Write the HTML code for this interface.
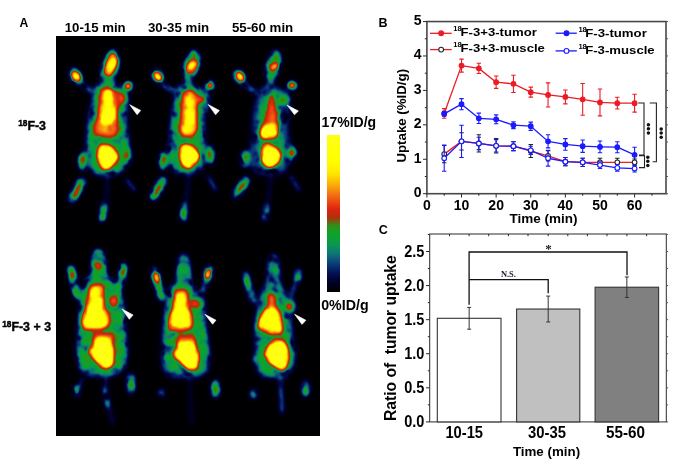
<!DOCTYPE html>
<html><head><meta charset="utf-8"><title>Figure</title>
<style>
html,body{margin:0;padding:0;background:#fff;}
body{width:680px;height:470px;overflow:hidden;}
svg{display:block;}
text{font-family:"Liberation Sans",Arial,sans-serif;}
.b{font-weight:bold;}
.serif{font-family:"Liberation Serif","Times New Roman",serif;}
</style></head>
<body>
<div style="will-change:transform;width:680px;height:470px">
<svg width="680" height="470" viewBox="0 0 680 470">
<defs>
<filter id="pet" x="56" y="36" width="264" height="400" filterUnits="userSpaceOnUse" color-interpolation-filters="sRGB">
<feGaussianBlur in="SourceGraphic" stdDeviation="2.1" result="b"/>
<feComponentTransfer in="b" result="w"><feFuncR type="table" tableValues="0.000 0.000 0.000 0.167 0.333 0.500 0.667 0.833 1.000 1.000 1.000 1.000 1.000 1.000 1.000 1.000 0.833 0.625 0.417 0.250 0.250 0.250 0.250 0.250 0.250 0.388 0.525 0.663 0.800 0.800 0.800 0.800 0.800 0.800 0.800 0.800 0.622 0.400 0.178 0.000 0.000"/><feFuncG type="table" tableValues="0.000 0.000 0.000 0.167 0.333 0.500 0.667 0.833 1.000 1.000 1.000 1.000 1.000 1.000 1.000 1.000 0.833 0.625 0.417 0.250 0.250 0.250 0.250 0.250 0.250 0.388 0.525 0.663 0.800 0.800 0.800 0.800 0.800 0.800 0.800 0.800 0.622 0.400 0.178 0.000 0.000"/><feFuncB type="table" tableValues="0.000 0.000 0.000 0.167 0.333 0.500 0.667 0.833 1.000 1.000 1.000 1.000 1.000 1.000 1.000 1.000 0.833 0.625 0.417 0.250 0.250 0.250 0.250 0.250 0.250 0.388 0.525 0.663 0.800 0.800 0.800 0.800 0.800 0.800 0.800 0.800 0.622 0.400 0.178 0.000 0.000"/><feFuncA type="linear" slope="0" intercept="1"/></feComponentTransfer>
<feTurbulence type="fractalNoise" baseFrequency="0.09" numOctaves="2" seed="7" result="n"/>
<feColorMatrix in="n" type="matrix" values="1 0 0 0 0  1 0 0 0 0  1 0 0 0 0  0 0 0 0 1" result="ng0"/>
<feComponentTransfer in="ng0" result="ng"><feFuncR type="table" tableValues="0 0.05 0.15 0.27 0.39 0.5 0.58 0.62 0.65 0.67 0.68"/><feFuncG type="table" tableValues="0 0.05 0.15 0.27 0.39 0.5 0.58 0.62 0.65 0.67 0.68"/><feFuncB type="table" tableValues="0 0.05 0.15 0.27 0.39 0.5 0.58 0.62 0.65 0.67 0.68"/></feComponentTransfer>
<feComposite in="w" in2="ng" operator="arithmetic" k1="0.5" k2="-0.25" k3="0" k4="0.5" result="T"/>
<feComposite in="b" in2="T" operator="arithmetic" k1="0" k2="1" k3="1" k4="-0.5" result="bn"/>
<feComponentTransfer in="bn">
<feFuncR type="table" tableValues="0.000 0.000 0.000 0.000 0.001 0.006 0.012 0.017 0.022 0.027 0.032 0.037 0.043 0.048 0.053 0.058 0.054 0.049 0.044 0.039 0.039 0.039 0.039 0.049 0.080 0.111 0.143 0.244 0.406 0.568 0.689 0.746 0.803 0.860 0.890 0.904 0.917 0.931 0.943 0.951 0.958 0.966 0.974 0.981 0.985 0.989 0.993 0.997 1.000 1.000 1.000 1.000 1.000 1.000 1.000 1.000 1.000 1.000 1.000 1.000 1.000 1.000 1.000 1.000"/>
<feFuncG type="table" tableValues="0.000 0.000 0.000 0.000 0.003 0.019 0.035 0.050 0.079 0.126 0.173 0.219 0.273 0.330 0.387 0.444 0.483 0.519 0.556 0.590 0.605 0.621 0.636 0.642 0.627 0.611 0.595 0.521 0.397 0.272 0.190 0.174 0.159 0.143 0.170 0.223 0.277 0.330 0.384 0.443 0.501 0.559 0.618 0.675 0.725 0.776 0.826 0.877 0.923 0.939 0.955 0.970 0.986 1.000 1.000 1.000 1.000 1.000 1.000 1.000 1.000 1.000 1.000 1.000"/>
<feFuncB type="table" tableValues="0.000 0.036 0.073 0.109 0.149 0.201 0.252 0.304 0.349 0.386 0.422 0.458 0.471 0.471 0.471 0.471 0.434 0.393 0.351 0.310 0.274 0.237 0.201 0.170 0.149 0.128 0.108 0.088 0.069 0.051 0.041 0.046 0.052 0.057 0.062 0.066 0.070 0.075 0.077 0.069 0.061 0.054 0.046 0.038 0.030 0.022 0.015 0.007 0.000 0.000 0.000 0.000 0.000 0.001 0.008 0.016 0.024 0.032 0.040 0.047 0.055 0.063 0.071 0.078"/>
</feComponentTransfer>
</filter>
<linearGradient id="cb" x1="0" y1="0" x2="0" y2="1">
<stop offset="0.000" stop-color="rgb(255,255,20)"/>
<stop offset="0.025" stop-color="rgb(255,255,17)"/>
<stop offset="0.050" stop-color="rgb(255,255,14)"/>
<stop offset="0.075" stop-color="rgb(255,255,11)"/>
<stop offset="0.100" stop-color="rgb(255,255,8)"/>
<stop offset="0.125" stop-color="rgb(255,255,4)"/>
<stop offset="0.150" stop-color="rgb(255,255,1)"/>
<stop offset="0.175" stop-color="rgb(255,251,0)"/>
<stop offset="0.200" stop-color="rgb(255,245,0)"/>
<stop offset="0.225" stop-color="rgb(255,239,0)"/>
<stop offset="0.250" stop-color="rgb(254,227,1)"/>
<stop offset="0.275" stop-color="rgb(253,207,4)"/>
<stop offset="0.300" stop-color="rgb(251,186,8)"/>
<stop offset="0.325" stop-color="rgb(249,165,11)"/>
<stop offset="0.350" stop-color="rgb(246,142,14)"/>
<stop offset="0.375" stop-color="rgb(243,118,17)"/>
<stop offset="0.400" stop-color="rgb(240,95,20)"/>
<stop offset="0.425" stop-color="rgb(235,74,18)"/>
<stop offset="0.450" stop-color="rgb(229,52,16)"/>
<stop offset="0.475" stop-color="rgb(220,36,15)"/>
<stop offset="0.500" stop-color="rgb(198,42,12)"/>
<stop offset="0.525" stop-color="rgb(175,49,10)"/>
<stop offset="0.550" stop-color="rgb(118,90,16)"/>
<stop offset="0.575" stop-color="rgb(53,140,24)"/>
<stop offset="0.600" stop-color="rgb(30,155,32)"/>
<stop offset="0.625" stop-color="rgb(18,161,40)"/>
<stop offset="0.650" stop-color="rgb(10,162,51)"/>
<stop offset="0.675" stop-color="rgb(10,156,65)"/>
<stop offset="0.700" stop-color="rgb(10,150,80)"/>
<stop offset="0.725" stop-color="rgb(12,135,97)"/>
<stop offset="0.750" stop-color="rgb(14,121,113)"/>
<stop offset="0.775" stop-color="rgb(14,101,120)"/>
<stop offset="0.800" stop-color="rgb(12,78,120)"/>
<stop offset="0.825" stop-color="rgb(10,56,117)"/>
<stop offset="0.850" stop-color="rgb(8,38,102)"/>
<stop offset="0.875" stop-color="rgb(5,19,88)"/>
<stop offset="0.900" stop-color="rgb(3,10,68)"/>
<stop offset="0.925" stop-color="rgb(1,4,48)"/>
<stop offset="0.950" stop-color="rgb(0,0,29)"/>
<stop offset="0.975" stop-color="rgb(0,0,15)"/>
<stop offset="1.000" stop-color="rgb(0,0,0)"/>
</linearGradient>
</defs>
<rect width="680" height="470" fill="#fff"/>
<!-- Panel A -->
<text class="b" x="19.5" y="26.8" font-size="12.2">A</text>
<text class="b" x="64.7" y="31.7" font-size="12.3" textLength="61" lengthAdjust="spacingAndGlyphs">10-15 min</text>
<text class="b" x="147.9" y="31.6" font-size="12.3" textLength="61.3" lengthAdjust="spacingAndGlyphs">30-35 min</text>
<text class="b" x="231.9" y="31.6" font-size="12.3" textLength="61.3" lengthAdjust="spacingAndGlyphs">55-60 min</text>
<rect x="56" y="36" width="264" height="400" fill="#000"/>
<g filter="url(#pet)">
<rect x="56" y="36" width="264" height="400" fill="#000"/>
<g id="petg">
<polygon points="97,83 114,82 122,86 127,93 129,101 128,112 127,122 129,135 130,147 128,160 125,169 118,175 108,177 97,176 90,170 87,160 85,147 86,135 87,122 89,110 92,96" fill="rgb(38,38,38)" stroke="rgb(38,38,38)" stroke-width="1.5" stroke-linejoin="round"/>
<polygon points="99,86 112,85 119,88 123,93 125,101 124,110 123,122 125,135 126,145 124,158 122,166 117,171 108,173 98,172 93,167 91,158 89,145 90,135 91,122 93,110 95,98" fill="rgb(87,87,87)" stroke="rgb(87,87,87)" stroke-width="1.5" stroke-linejoin="round"/>
<polyline points="109,78 107,90" fill="none" stroke="rgb(76,76,76)" stroke-width="10" stroke-linecap="round" stroke-linejoin="round"/>
<polygon points="113.5,50 117,53 118.5,59 118,66 116.5,72 113,77.5 107,79 101.5,78 101.5,72 104,64 106.5,57 110,52" fill="rgb(87,87,87)" stroke="rgb(87,87,87)" stroke-width="1.5" stroke-linejoin="round"/>
<polygon points="113.5,54.3 116,58 116.4,61.5 114.5,66.8 111.5,71 108.8,75.4 106,72.5 105.9,70 107.8,63 110.7,56.3" fill="rgb(230,230,230)" stroke="rgb(230,230,230)" stroke-width="1.5" stroke-linejoin="round"/>
<ellipse cx="106.2" cy="73.5" rx="1.8" ry="2.2" fill="rgb(153,153,153)"/>
<ellipse cx="75.5" cy="76" rx="5.5" ry="8.5" fill="rgb(92,92,92)" transform="rotate(-32 75.5 76)"/>
<ellipse cx="76" cy="76.5" rx="3.3" ry="5.5" fill="rgb(255,255,255)" transform="rotate(-32 76 76.5)"/>
<polyline points="80,83 88,89 97,94" fill="none" stroke="rgb(61,61,61)" stroke-width="5" stroke-linecap="round" stroke-linejoin="round"/>
<ellipse cx="128.3" cy="86.3" rx="4.3" ry="4.3" fill="rgb(92,92,92)"/>
<ellipse cx="128" cy="86" rx="2.6" ry="2.6" fill="rgb(255,255,255)"/>
<polyline points="127,89 124,95" fill="none" stroke="rgb(66,66,66)" stroke-width="2.5" stroke-linecap="round" stroke-linejoin="round"/>
<polygon points="100,89 108,88.5 114,90 118,93 124,95 125.5,99 123,102.5 118,104 117,112 117,122 118,130 115,136.5 104,137 95,134 94.5,125 98,115 99,105 99.5,95" fill="rgb(143,143,143)" stroke="rgb(143,143,143)" stroke-width="1.5" stroke-linejoin="round"/>
<ellipse cx="121.5" cy="98" rx="3.8" ry="3.6" fill="rgb(153,153,153)"/>
<polygon points="98,121 115,121 115,131 111,134 100,134 97,130" fill="rgb(158,158,158)" stroke="rgb(158,158,158)" stroke-width="1.5" stroke-linejoin="round"/>
<polygon points="106.5,91 110,91 112,97 113,105 114,113 114,119 111.5,123 104,123.5 101.5,120 102.5,112 104,102 105,95" fill="rgb(235,235,235)" stroke="rgb(235,235,235)" stroke-width="1.5" stroke-linejoin="round"/>
<ellipse cx="104" cy="129" rx="2.2" ry="1.8" fill="rgb(199,199,199)"/>
<ellipse cx="111" cy="128" rx="1.8" ry="1.6" fill="rgb(194,194,194)"/>
<polygon points="100.59,146.05 109.51,146.79 114.67,152.03 117.3,156.44 114.63,160.84 110.25,165.93 107.29,169 103.63,167.52 100.03,162.27 98.89,155.69 99.2,150.57" fill="rgb(255,255,255)" stroke="rgb(255,255,255)" stroke-width="1.5" stroke-linejoin="round"/>
<ellipse cx="83" cy="161.5" rx="4.5" ry="9.5" fill="rgb(92,92,92)"/>
<ellipse cx="82.6" cy="160" rx="2.2" ry="3.5" fill="rgb(153,153,153)"/>
<ellipse cx="127" cy="156.5" rx="4.3" ry="9" fill="rgb(92,92,92)"/>
<ellipse cx="127.2" cy="155" rx="2.1" ry="3.3" fill="rgb(153,153,153)"/>
<polyline points="72.5,198.5 81.5,182" fill="none" stroke="rgb(92,92,92)" stroke-width="8" stroke-linecap="round" stroke-linejoin="round"/>
<polyline points="74,196 80,185" fill="none" stroke="rgb(153,153,153)" stroke-width="4" stroke-linecap="round" stroke-linejoin="round"/>
<polyline points="126.5,180 134.5,190" fill="none" stroke="rgb(56,56,56)" stroke-width="3.5" stroke-linecap="round" stroke-linejoin="round"/>
<polyline points="105,203.5 102,219" fill="none" stroke="rgb(92,92,92)" stroke-width="5.5" stroke-linecap="round" stroke-linejoin="round"/>
<polyline points="103.5,210 102.3,217.5" fill="none" stroke="rgb(153,153,153)" stroke-width="3" stroke-linecap="round" stroke-linejoin="round"/>
<polyline points="108,172 106,203" fill="none" stroke="rgb(36,36,36)" stroke-width="3" stroke-linecap="round" stroke-linejoin="round"/>
<polygon points="178,85 196,85 204,90 210,96 209,108 205,120 206,135 207,148 205,162 201,172 190,175 179,175 172,172 168,162 167,148 169,135 170,122 172,108 174,95" fill="rgb(38,38,38)" stroke="rgb(38,38,38)" stroke-width="1.5" stroke-linejoin="round"/>
<polygon points="180,88 195,88 201,93 207,97 205,104 202,115 202,130 203,145 201,160 198,168 190,171 180,171 174,168 171,160 171,145 173,130 174,118 176,105 178,95" fill="rgb(80,80,80)" stroke="rgb(80,80,80)" stroke-width="1.5" stroke-linejoin="round"/>
<polyline points="189,78 187,90" fill="none" stroke="rgb(61,61,61)" stroke-width="6.5" stroke-linecap="round" stroke-linejoin="round"/>
<polygon points="195,50.5 199.6,57 198.5,66 195,74 190,78.5 185,77 183.4,70 185.5,62 189,56 192,51.5" fill="rgb(87,87,87)" stroke="rgb(87,87,87)" stroke-width="1.5" stroke-linejoin="round"/>
<polygon points="192,61 196.5,62 196,67 193,71.5 188.5,72 187.5,68 189.5,64" fill="rgb(230,230,230)" stroke="rgb(230,230,230)" stroke-width="1.5" stroke-linejoin="round"/>
<ellipse cx="194.5" cy="55.5" rx="2.2" ry="3.2" fill="rgb(158,158,158)" transform="rotate(20 194.5 55.5)"/>
<ellipse cx="157.5" cy="75.5" rx="5" ry="7.5" fill="rgb(92,92,92)" transform="rotate(-32 157.5 75.5)"/>
<ellipse cx="157.8" cy="76.5" rx="3" ry="4.8" fill="rgb(255,255,255)" transform="rotate(-32 157.8 76.5)"/>
<polyline points="162,84 170,89 177,93" fill="none" stroke="rgb(61,61,61)" stroke-width="4.5" stroke-linecap="round" stroke-linejoin="round"/>
<ellipse cx="210" cy="85.3" rx="4" ry="4" fill="rgb(92,92,92)"/>
<ellipse cx="210" cy="85.3" rx="2.5" ry="2.5" fill="rgb(255,255,255)"/>
<polyline points="208.5,88.5 204,95" fill="none" stroke="rgb(56,56,56)" stroke-width="2.2" stroke-linecap="round" stroke-linejoin="round"/>
<polygon points="182,91 190,90 196,93 198,96 206,97 205,101 198,102 197,110 197,120 197,130 194,136 185,137 180,133 180,122 181,110 182,100" fill="rgb(143,143,143)" stroke="rgb(143,143,143)" stroke-width="1.5" stroke-linejoin="round"/>
<ellipse cx="201" cy="98.5" rx="4.5" ry="2.8" fill="rgb(148,148,148)"/>
<polygon points="186,93 191,92.5 194,98 195,110 195,122 195,130 192,134 183,134 182,128 184,118 185,106" fill="rgb(173,173,173)" stroke="rgb(173,173,173)" stroke-width="1.5" stroke-linejoin="round"/>
<polygon points="188.5,95 190.5,95 191.5,101 192,110 192,119 192.5,126 191,131 185,131.5 184,128 186.5,121 187.5,110 188,101" fill="rgb(230,230,230)" stroke="rgb(230,230,230)" stroke-width="1.5" stroke-linejoin="round"/>
<polygon points="182.6,145.65 189.26,146.1 192.88,148.34 198.5,155.59 196.66,160.78 189.27,167.5 184.16,165.23 180.88,157.78 180.86,151.97" fill="rgb(255,255,255)" stroke="rgb(255,255,255)" stroke-width="1.5" stroke-linejoin="round"/>
<ellipse cx="163.4" cy="161" rx="4.3" ry="9" fill="rgb(92,92,92)"/>
<ellipse cx="163.2" cy="158.7" rx="2.1" ry="3.2" fill="rgb(153,153,153)"/>
<ellipse cx="209.8" cy="155" rx="4.3" ry="9" fill="rgb(92,92,92)"/>
<ellipse cx="210" cy="153.8" rx="2.1" ry="3.2" fill="rgb(153,153,153)"/>
<polyline points="154,196 162.5,181" fill="none" stroke="rgb(92,92,92)" stroke-width="8" stroke-linecap="round" stroke-linejoin="round"/>
<polyline points="155.5,194 160.5,186" fill="none" stroke="rgb(153,153,153)" stroke-width="4" stroke-linecap="round" stroke-linejoin="round"/>
<polyline points="208.5,177 215.5,190" fill="none" stroke="rgb(56,56,56)" stroke-width="3.5" stroke-linecap="round" stroke-linejoin="round"/>
<polyline points="185,205 183,219" fill="none" stroke="rgb(89,89,89)" stroke-width="5.5" stroke-linecap="round" stroke-linejoin="round"/>
<polyline points="184,211 183.3,218" fill="none" stroke="rgb(148,148,148)" stroke-width="3" stroke-linecap="round" stroke-linejoin="round"/>
<polyline points="189,172 186,205" fill="none" stroke="rgb(36,36,36)" stroke-width="3" stroke-linecap="round" stroke-linejoin="round"/>
<polygon points="262,86 278,86 286,92 291,100 290,112 288,125 290,140 292,152 289,165 284,173 271,176 259,175 252,170 249,160 250,148 251,135 252,120 254,105 258,93" fill="rgb(36,36,36)" stroke="rgb(36,36,36)" stroke-width="1.5" stroke-linejoin="round"/>
<polygon points="266,91 276,91 280,94 284,97 283,103 280,106 280,120 281,135 283,145 283,158 280,167 271,170 263,168 259,160 259,148 259,135 259,120 261,105 263,96" fill="rgb(76,76,76)" stroke="rgb(76,76,76)" stroke-width="1.5" stroke-linejoin="round"/>
<polyline points="271,78 270,90" fill="none" stroke="rgb(56,56,56)" stroke-width="6.5" stroke-linecap="round" stroke-linejoin="round"/>
<polygon points="276,50.5 280,55 280.5,63 279,71 275,77 270,78.5 266,75 266,67 269,60 272,53" fill="rgb(84,84,84)" stroke="rgb(84,84,84)" stroke-width="1.5" stroke-linejoin="round"/>
<ellipse cx="275.6" cy="55.8" rx="2.2" ry="2.4" fill="rgb(148,148,148)"/>
<ellipse cx="274.2" cy="66.8" rx="5.2" ry="2.5" fill="rgb(204,204,204)" transform="rotate(-38 274.2 66.8)"/>
<ellipse cx="239.3" cy="77" rx="5" ry="7.5" fill="rgb(92,92,92)" transform="rotate(-35 239.3 77)"/>
<ellipse cx="240.2" cy="76.8" rx="2.8" ry="5" fill="rgb(255,255,255)" transform="rotate(-35 240.2 76.8)"/>
<polyline points="243,83 252,90 261,94" fill="none" stroke="rgb(61,61,61)" stroke-width="4.5" stroke-linecap="round" stroke-linejoin="round"/>
<ellipse cx="292.4" cy="85.4" rx="4.2" ry="4" fill="rgb(92,92,92)"/>
<ellipse cx="292" cy="85.4" rx="2.7" ry="2.4" fill="rgb(250,250,250)"/>
<polyline points="290.5,88.5 286,95" fill="none" stroke="rgb(56,56,56)" stroke-width="2.2" stroke-linecap="round" stroke-linejoin="round"/>
<ellipse cx="285" cy="100" rx="5.5" ry="3.6" fill="rgb(105,105,105)"/>
<polygon points="270.5,92 272.5,92 275,105 277,115 278,124 277,130 263,130 264,122 267,110 269,100" fill="rgb(140,140,140)" stroke="rgb(140,140,140)" stroke-width="1.5" stroke-linejoin="round"/>
<polygon points="271.5,98 272.5,98 273.5,108 274,118 273.5,124 269.5,124 270.5,116 271,106" fill="rgb(153,153,153)" stroke="rgb(153,153,153)" stroke-width="1.5" stroke-linejoin="round"/>
<polygon points="263.5,127 275,125.5 277,130 276,135.5 271,137.5 262,137.5 261,132" fill="rgb(235,235,235)" stroke="rgb(235,235,235)" stroke-width="1.5" stroke-linejoin="round"/>
<polygon points="264.39,145.25 270.28,145.7 275.42,148.99 279.5,154.8 278.37,160.78 270.28,167.1 264.41,163.66 262.29,156.99 262.65,151.19" fill="rgb(255,255,255)" stroke="rgb(255,255,255)" stroke-width="1.5" stroke-linejoin="round"/>
<ellipse cx="245.1" cy="159" rx="4.2" ry="8.5" fill="rgb(89,89,89)"/>
<ellipse cx="245.1" cy="157.7" rx="2.1" ry="3" fill="rgb(148,148,148)"/>
<ellipse cx="291.8" cy="154.5" rx="4.3" ry="8.5" fill="rgb(92,92,92)"/>
<ellipse cx="291.8" cy="152.8" rx="2.2" ry="3.4" fill="rgb(184,184,184)"/>
<polyline points="236.5,194 245.5,181" fill="none" stroke="rgb(89,89,89)" stroke-width="8" stroke-linecap="round" stroke-linejoin="round"/>
<polyline points="238,192 243.5,185" fill="none" stroke="rgb(145,145,145)" stroke-width="4" stroke-linecap="round" stroke-linejoin="round"/>
<polyline points="291,177 299,190" fill="none" stroke="rgb(51,51,51)" stroke-width="3.5" stroke-linecap="round" stroke-linejoin="round"/>
<polyline points="267,206 265,218" fill="none" stroke="rgb(87,87,87)" stroke-width="5" stroke-linecap="round" stroke-linejoin="round"/>
<polyline points="271,172 268,206" fill="none" stroke="rgb(33,33,33)" stroke-width="3" stroke-linecap="round" stroke-linejoin="round"/>
<polygon points="86,277 108,276 118,283 122,295 125,310 126,325 127,340 128,355 125,369 114,377 90,377 79,370 76,355 77,340 78,325 79,310 81,295" fill="rgb(41,41,41)" stroke="rgb(41,41,41)" stroke-width="1.5" stroke-linejoin="round"/>
<polygon points="88,280 106,279 115,285 119,295 122,310 123,325 124,340 125,355 122,367 112,373 92,373 82,367 79,355 80,340 81,325 82,310 84,295" fill="rgb(87,87,87)" stroke="rgb(87,87,87)" stroke-width="1.5" stroke-linejoin="round"/>
<polygon points="95,250 101,250 104,256 105,265 105.5,275 108,284 89,284 91.5,275 92,265 93,256" fill="rgb(84,84,84)" stroke="rgb(84,84,84)" stroke-width="1.5" stroke-linejoin="round"/>
<ellipse cx="98.2" cy="252.5" rx="3" ry="3.5" fill="rgb(66,66,66)"/>
<ellipse cx="98.3" cy="265" rx="4.5" ry="3.5" fill="rgb(143,143,143)"/>
<ellipse cx="98.3" cy="265" rx="2" ry="1.8" fill="rgb(158,158,158)"/>
<polyline points="71,269 74,283 78,296" fill="none" stroke="rgb(87,87,87)" stroke-width="7" stroke-linecap="round" stroke-linejoin="round"/>
<ellipse cx="72.6" cy="275.6" rx="2" ry="3.5" fill="rgb(178,178,178)" transform="rotate(-15 72.6 275.6)"/>
<ellipse cx="75.4" cy="291.5" rx="1.8" ry="2.4" fill="rgb(148,148,148)"/>
<polyline points="123.5,267 121.5,279 117.5,291" fill="none" stroke="rgb(87,87,87)" stroke-width="7" stroke-linecap="round" stroke-linejoin="round"/>
<ellipse cx="122.3" cy="271.8" rx="2" ry="3.5" fill="rgb(173,173,173)" transform="rotate(15 122.3 271.8)"/>
<polygon points="90,284.5 102.5,284.5 104,292 104,303 106,310 110,316 110.5,322 107,327 100,329.5 84,329.5 81,323 83,314 86,306 89,296" fill="rgb(143,143,143)" stroke="rgb(143,143,143)" stroke-width="1.5" stroke-linejoin="round"/>
<ellipse cx="113.7" cy="301.5" rx="7.5" ry="8" fill="rgb(92,92,92)"/>
<ellipse cx="113.7" cy="301.8" rx="4.8" ry="6" fill="rgb(143,143,143)"/>
<ellipse cx="114" cy="300.5" rx="2.2" ry="2.6" fill="rgb(161,161,161)"/>
<polygon points="92,289 100,288.5 101,296 101,304 103,310 105.5,316 106.5,323 103,326.5 86,326.5 83.5,322 85.5,315 88.5,309 91,303 91.5,295" fill="rgb(235,235,235)" stroke="rgb(235,235,235)" stroke-width="1.5" stroke-linejoin="round"/>
<polygon points="95,333.5 112,333 114.5,338 110,341 100,341 93,340" fill="rgb(143,143,143)" stroke="rgb(143,143,143)" stroke-width="1.5" stroke-linejoin="round"/>
<polygon points="96.57,339.96 102.11,338.5 109.6,339.95 112.22,349.23 112.26,358.49 111.47,365.08 105.81,367.41 100.28,364.01 94.74,357.59 89.6,351.53 92.85,347.39" fill="rgb(255,255,255)" stroke="rgb(255,255,255)" stroke-width="1.5" stroke-linejoin="round"/>
<polyline points="83,378 79,387 77,391" fill="none" stroke="rgb(51,51,51)" stroke-width="2.5" stroke-linecap="round" stroke-linejoin="round"/>
<ellipse cx="76.8" cy="391" rx="3.2" ry="5.2" fill="rgb(94,94,94)"/>
<ellipse cx="76.6" cy="390.3" rx="1.6" ry="2" fill="rgb(148,148,148)"/>
<ellipse cx="130.8" cy="383.5" rx="4" ry="10.5" fill="rgb(94,94,94)"/>
<ellipse cx="130.9" cy="385" rx="1.8" ry="2.8" fill="rgb(163,163,163)"/>
<polyline points="106,372 106,388 109,405 113,424" fill="none" stroke="rgb(46,46,46)" stroke-width="2.5" stroke-linecap="round" stroke-linejoin="round"/>
<polyline points="105,388 107.5,406" fill="none" stroke="rgb(76,76,76)" stroke-width="4" stroke-linecap="round" stroke-linejoin="round"/>
<polygon points="170,285 190,284 198,290 204,298 206,312 207,328 209,345 211,358 208,372 198,378 172,378 163,371 161,355 162,340 163,320 165,305 167,292" fill="rgb(41,41,41)" stroke="rgb(41,41,41)" stroke-width="1.5" stroke-linejoin="round"/>
<polygon points="172,288 189,287 195,293 200,301 202,314 204,330 206,346 207,358 203,368 196,373 174,373 167,367 165,355 166,340 167,322 169,306 170,296" fill="rgb(87,87,87)" stroke="rgb(87,87,87)" stroke-width="1.5" stroke-linejoin="round"/>
<polygon points="181,254.5 186,254.5 189,262 190,272 191,283 193,290 174,290 176.5,283 177.5,272 178.5,262" fill="rgb(76,76,76)" stroke="rgb(76,76,76)" stroke-width="1.5" stroke-linejoin="round"/>
<ellipse cx="183.5" cy="257" rx="2.5" ry="3" fill="rgb(56,56,56)"/>
<ellipse cx="183.3" cy="268" rx="4" ry="5" fill="rgb(89,89,89)"/>
<polyline points="154.5,271 157.5,284 161.5,297" fill="none" stroke="rgb(87,87,87)" stroke-width="7" stroke-linecap="round" stroke-linejoin="round"/>
<ellipse cx="156.8" cy="277.5" rx="2.6" ry="5.5" fill="rgb(230,230,230)" transform="rotate(-15 156.8 277.5)"/>
<ellipse cx="160.6" cy="294.7" rx="1.7" ry="2" fill="rgb(148,148,148)"/>
<polyline points="209,270 207.5,277" fill="none" stroke="rgb(87,87,87)" stroke-width="7.5" stroke-linecap="round" stroke-linejoin="round"/>
<polyline points="207,280 203,291" fill="none" stroke="rgb(61,61,61)" stroke-width="5" stroke-linecap="round" stroke-linejoin="round"/>
<ellipse cx="207.8" cy="274" rx="2.6" ry="5" fill="rgb(230,230,230)" transform="rotate(20 207.8 274)"/>
<polygon points="175,289.5 187,289.5 188,297 189,305 191,313 193,320 192,327 187,331 170,331 167.5,326 169.5,318 172.5,310 174,300" fill="rgb(143,143,143)" stroke="rgb(143,143,143)" stroke-width="1.5" stroke-linejoin="round"/>
<ellipse cx="194.5" cy="304" rx="8.5" ry="6.5" fill="rgb(89,89,89)"/>
<ellipse cx="194.5" cy="304" rx="6.3" ry="4" fill="rgb(143,143,143)"/>
<ellipse cx="189.5" cy="303.6" rx="1.5" ry="1.5" fill="rgb(153,153,153)"/>
<ellipse cx="198.3" cy="303" rx="1.8" ry="1.8" fill="rgb(156,156,156)"/>
<polygon points="177.5,294 184,294 185,300 186,307 188,314 190,321 188.5,326 172,326.5 170.5,322 173,315 175.5,307 176.5,300" fill="rgb(235,235,235)" stroke="rgb(235,235,235)" stroke-width="1.5" stroke-linejoin="round"/>
<polygon points="179,336 193.5,335.5 196,341 192,343.5 181,343.5 177,342" fill="rgb(143,143,143)" stroke="rgb(143,143,143)" stroke-width="1.5" stroke-linejoin="round"/>
<polygon points="179.6,342.75 186.98,341.9 192.62,342.76 197.2,353.93 197.26,361.39 195.47,367.97 189.81,368.81 183.34,363.13 176.89,356.72 174.1,353.93 177.84,349.31" fill="rgb(255,255,255)" stroke="rgb(255,255,255)" stroke-width="1.5" stroke-linejoin="round"/>
<ellipse cx="161.6" cy="393" rx="3" ry="3.8" fill="rgb(79,79,79)"/>
<ellipse cx="215.5" cy="389" rx="4.3" ry="9" fill="rgb(89,89,89)"/>
<ellipse cx="215.5" cy="389.3" rx="1.8" ry="2.4" fill="rgb(153,153,153)"/>
<polyline points="190,376 190,400 192,424" fill="none" stroke="rgb(33,33,33)" stroke-width="2.5" stroke-linecap="round" stroke-linejoin="round"/>
<polygon points="263,286 281,286 288,294 291,306 292,322 294,338 296,353 294,368 285,378 263,378 256,370 255,352 254,335 255,318 258,300" fill="rgb(38,38,38)" stroke="rgb(38,38,38)" stroke-width="1.5" stroke-linejoin="round"/>
<polygon points="266,290 278,290 284,298 287,310 288,325 290,340 292,355 290,368 282,374 266,374 260,368 259,350 258,335 259,318 262,302" fill="rgb(82,82,82)" stroke="rgb(82,82,82)" stroke-width="1.5" stroke-linejoin="round"/>
<polygon points="271,255 276,255 279,262 279.5,272 280,282 283,291 265,291 267,282 267.5,272 268,262" fill="rgb(59,59,59)" stroke="rgb(59,59,59)" stroke-width="1.5" stroke-linejoin="round"/>
<ellipse cx="273.3" cy="269.8" rx="5" ry="3.8" fill="rgb(84,84,84)"/>
<polyline points="246,275 249,288 253,300" fill="none" stroke="rgb(74,74,74)" stroke-width="6.5" stroke-linecap="round" stroke-linejoin="round"/>
<ellipse cx="247.2" cy="281.2" rx="1.8" ry="3.2" fill="rgb(140,140,140)" transform="rotate(-15 247.2 281.2)"/>
<polyline points="298.5,272 297.5,280" fill="none" stroke="rgb(82,82,82)" stroke-width="6" stroke-linecap="round" stroke-linejoin="round"/>
<polyline points="296,283 291,296" fill="none" stroke="rgb(56,56,56)" stroke-width="4" stroke-linecap="round" stroke-linejoin="round"/>
<ellipse cx="297.7" cy="276.5" rx="1.8" ry="3.2" fill="rgb(153,153,153)" transform="rotate(10 297.7 276.5)"/>
<polygon points="269.5,293.5 273.5,293.5 275,303 278,309 281,316 282.5,325 282,333 270,334 258,329 257.5,323 261,316 267,308 268.5,302" fill="rgb(143,143,143)" stroke="rgb(143,143,143)" stroke-width="1.5" stroke-linejoin="round"/>
<polygon points="270.5,296.5 272.5,296.5 273.5,304 272.5,309 270.5,308 270,303" fill="rgb(163,163,163)" stroke="rgb(163,163,163)" stroke-width="1.5" stroke-linejoin="round"/>
<polygon points="267.5,308.5 273.5,308.5 277.5,314 279.5,322 280.5,331 272,332 268,328 260,326.5 259.5,322.5 263.5,315" fill="rgb(235,235,235)" stroke="rgb(235,235,235)" stroke-width="1.5" stroke-linejoin="round"/>
<ellipse cx="289.2" cy="306.3" rx="6.5" ry="7" fill="rgb(87,87,87)"/>
<ellipse cx="289.5" cy="306.5" rx="3.8" ry="3.5" fill="rgb(143,143,143)"/>
<ellipse cx="289.5" cy="306.5" rx="1.5" ry="1.5" fill="rgb(153,153,153)"/>
<polygon points="273,339.5 282,339 285,343 281,345 274,345 270.5,343.5" fill="rgb(143,143,143)" stroke="rgb(143,143,143)" stroke-width="1.5" stroke-linejoin="round"/>
<polygon points="271.57,343.86 277.08,342.5 283.58,343.83 286.37,347.63 287.31,356.81 285.56,366.18 281.77,369.42 275.25,365.1 268.81,360.55 268,354.11 265.1,355.46 268.8,347.66" fill="rgb(255,255,255)" stroke="rgb(255,255,255)" stroke-width="1.5" stroke-linejoin="round"/>
<ellipse cx="255.1" cy="358.4" rx="2.6" ry="4" fill="rgb(71,71,71)"/>
<ellipse cx="253.5" cy="394" rx="3.2" ry="4.8" fill="rgb(74,74,74)"/>
<ellipse cx="305.7" cy="388.7" rx="3.6" ry="8" fill="rgb(89,89,89)"/>
<ellipse cx="305.7" cy="389" rx="1.4" ry="2" fill="rgb(128,128,128)"/>
<polyline points="280,376 281,391 282,412" fill="none" stroke="rgb(69,69,69)" stroke-width="3.2" stroke-linecap="round" stroke-linejoin="round"/>
</g>
</g>
<g fill="#fff" stroke="#fff" stroke-width="0.6" stroke-linejoin="round">
<polygon points="129.7,104.7 140.7,110.4 137.1,114.7"/>
<polygon points="208.2,104.6 219.4,110.5 215.6,114.8"/>
<polygon points="287.1,105.1 298.4,111 294.5,114.8"/>
<polygon points="122.1,309.1 133.1,315 129.3,319.3"/>
<polygon points="204.9,314.3 216,320.2 212.6,324.2"/>
<polygon points="294.6,314.2 305.9,320.3 302,324.4"/>
</g>
<text class="b" x="18.2" y="129.9" font-size="12.4" stroke="#000" stroke-width="0.4"><tspan font-size="8.3" dy="-3.6">18</tspan><tspan dy="3.6">F-3</tspan></text>
<text class="b" x="2.2" y="330.5" font-size="12.4" stroke="#000" stroke-width="0.4"><tspan font-size="8.3" dy="-3.6">18</tspan><tspan dy="3.6">F-3 + 3</tspan></text>
<!-- colorbar -->
<rect x="327" y="135" width="13" height="157" fill="url(#cb)"/>
<text class="b" x="321.6" y="127.2" font-size="14.2" textLength="54.6" lengthAdjust="spacingAndGlyphs">17%ID/g</text>
<text class="b" x="321.2" y="309.7" font-size="14.2" textLength="47.4" lengthAdjust="spacingAndGlyphs">0%ID/g</text>
<!-- Panel B -->
<text class="b" x="378.5" y="26.8" font-size="12.5">B</text>
<rect x="426.9" y="21.55" width="239.1" height="172.15" fill="none" stroke="#484848" stroke-width="1.6"/>
<line x1="423" y1="193.7" x2="426.9" y2="193.7" stroke="#2a2a2a" stroke-width="1"/>
<text class="b" x="421.6" y="197.2" font-size="14" text-anchor="end">0</text>
<line x1="666" y1="193.7" x2="668" y2="193.7" stroke="#555" stroke-width="1"/>
<line x1="424.8" y1="176.485" x2="426.9" y2="176.485" stroke="#2a2a2a" stroke-width="1"/>
<line x1="666" y1="176.485" x2="668" y2="176.485" stroke="#555" stroke-width="1"/>
<line x1="423" y1="159.27" x2="426.9" y2="159.27" stroke="#2a2a2a" stroke-width="1"/>
<text class="b" x="421.6" y="162.77" font-size="14" text-anchor="end">1</text>
<line x1="666" y1="159.27" x2="668" y2="159.27" stroke="#555" stroke-width="1"/>
<line x1="424.8" y1="142.055" x2="426.9" y2="142.055" stroke="#2a2a2a" stroke-width="1"/>
<line x1="666" y1="142.055" x2="668" y2="142.055" stroke="#555" stroke-width="1"/>
<line x1="423" y1="124.84" x2="426.9" y2="124.84" stroke="#2a2a2a" stroke-width="1"/>
<text class="b" x="421.6" y="128.34" font-size="14" text-anchor="end">2</text>
<line x1="666" y1="124.84" x2="668" y2="124.84" stroke="#555" stroke-width="1"/>
<line x1="424.8" y1="107.625" x2="426.9" y2="107.625" stroke="#2a2a2a" stroke-width="1"/>
<line x1="666" y1="107.625" x2="668" y2="107.625" stroke="#555" stroke-width="1"/>
<line x1="423" y1="90.41" x2="426.9" y2="90.41" stroke="#2a2a2a" stroke-width="1"/>
<text class="b" x="421.6" y="93.91" font-size="14" text-anchor="end">3</text>
<line x1="666" y1="90.41" x2="668" y2="90.41" stroke="#555" stroke-width="1"/>
<line x1="424.8" y1="73.195" x2="426.9" y2="73.195" stroke="#2a2a2a" stroke-width="1"/>
<line x1="666" y1="73.195" x2="668" y2="73.195" stroke="#555" stroke-width="1"/>
<line x1="423" y1="55.98" x2="426.9" y2="55.98" stroke="#2a2a2a" stroke-width="1"/>
<text class="b" x="421.6" y="59.48" font-size="14" text-anchor="end">4</text>
<line x1="666" y1="55.98" x2="668" y2="55.98" stroke="#555" stroke-width="1"/>
<line x1="424.8" y1="38.765" x2="426.9" y2="38.765" stroke="#2a2a2a" stroke-width="1"/>
<line x1="666" y1="38.765" x2="668" y2="38.765" stroke="#555" stroke-width="1"/>
<line x1="423" y1="21.55" x2="426.9" y2="21.55" stroke="#2a2a2a" stroke-width="1"/>
<text class="b" x="421.6" y="25.05" font-size="14" text-anchor="end">5</text>
<line x1="666" y1="21.55" x2="668" y2="21.55" stroke="#555" stroke-width="1"/>
<line x1="426.9" y1="193.7" x2="426.9" y2="197.5" stroke="#2a2a2a" stroke-width="1"/>
<text class="b" x="426.9" y="210" font-size="14" text-anchor="middle">0</text>
<line x1="444.208" y1="193.7" x2="444.208" y2="195.8" stroke="#2a2a2a" stroke-width="1"/>
<line x1="461.517" y1="193.7" x2="461.517" y2="197.5" stroke="#2a2a2a" stroke-width="1"/>
<text class="b" x="461.517" y="210" font-size="14" text-anchor="middle">10</text>
<line x1="478.825" y1="193.7" x2="478.825" y2="195.8" stroke="#2a2a2a" stroke-width="1"/>
<line x1="496.134" y1="193.7" x2="496.134" y2="197.5" stroke="#2a2a2a" stroke-width="1"/>
<text class="b" x="496.134" y="210" font-size="14" text-anchor="middle">20</text>
<line x1="513.442" y1="193.7" x2="513.442" y2="195.8" stroke="#2a2a2a" stroke-width="1"/>
<line x1="530.751" y1="193.7" x2="530.751" y2="197.5" stroke="#2a2a2a" stroke-width="1"/>
<text class="b" x="530.751" y="210" font-size="14" text-anchor="middle">30</text>
<line x1="548.059" y1="193.7" x2="548.059" y2="195.8" stroke="#2a2a2a" stroke-width="1"/>
<line x1="565.368" y1="193.7" x2="565.368" y2="197.5" stroke="#2a2a2a" stroke-width="1"/>
<text class="b" x="565.368" y="210" font-size="14" text-anchor="middle">40</text>
<line x1="582.677" y1="193.7" x2="582.677" y2="195.8" stroke="#2a2a2a" stroke-width="1"/>
<line x1="599.985" y1="193.7" x2="599.985" y2="197.5" stroke="#2a2a2a" stroke-width="1"/>
<text class="b" x="599.985" y="210" font-size="14" text-anchor="middle">50</text>
<line x1="617.293" y1="193.7" x2="617.293" y2="195.8" stroke="#2a2a2a" stroke-width="1"/>
<line x1="634.602" y1="193.7" x2="634.602" y2="197.5" stroke="#2a2a2a" stroke-width="1"/>
<text class="b" x="634.602" y="210" font-size="14" text-anchor="middle">60</text>
<line x1="651.91" y1="193.7" x2="651.91" y2="195.8" stroke="#2a2a2a" stroke-width="1"/>
<text class="b" x="509.4" y="223.3" font-size="13.4" textLength="68" lengthAdjust="spacingAndGlyphs">Time (min)</text>
<text class="b" transform="translate(406.3 162.6) rotate(-90)" x="0" y="0" font-size="13.3" textLength="93.7" lengthAdjust="spacingAndGlyphs">Uptake (%ID/g)</text>
<polyline points="444.21,113.48 461.52,65.62 478.83,68.37 496.13,82.15 513.44,83.87 530.75,92.13 548.06,94.89 565.37,96.95 582.68,99.36 599.99,102.46 617.29,103.15 634.60,103.15" fill="none" stroke="#ec1c24" stroke-width="1.3" stroke-linejoin="round"/>
<path d="M444.21 108.66V118.30M442.01 108.66H446.41M442.01 118.30H446.41" stroke="#ec1c24" stroke-width="1.1" fill="none"/>
<path d="M461.52 59.08V72.16M459.32 59.08H463.72M459.32 72.16H463.72" stroke="#ec1c24" stroke-width="1.1" fill="none"/>
<path d="M478.83 63.21V73.54M476.63 63.21H481.03M476.63 73.54H481.03" stroke="#ec1c24" stroke-width="1.1" fill="none"/>
<path d="M496.13 75.95V88.34M493.93 75.95H498.33M493.93 88.34H498.33" stroke="#ec1c24" stroke-width="1.1" fill="none"/>
<path d="M513.44 75.26V92.48M511.24 75.26H515.64M511.24 92.48H515.64" stroke="#ec1c24" stroke-width="1.1" fill="none"/>
<path d="M530.75 87.14V97.12M528.55 87.14H532.95M528.55 97.12H532.95" stroke="#ec1c24" stroke-width="1.1" fill="none"/>
<path d="M548.06 82.84V106.94M545.86 82.84H550.26M545.86 106.94H550.26" stroke="#ec1c24" stroke-width="1.1" fill="none"/>
<path d="M565.37 90.07V103.84M563.17 90.07H567.57M563.17 103.84H567.57" stroke="#ec1c24" stroke-width="1.1" fill="none"/>
<path d="M582.68 83.52V115.20M580.48 83.52H584.88M580.48 115.20H584.88" stroke="#ec1c24" stroke-width="1.1" fill="none"/>
<path d="M599.99 89.03V115.89M597.78 89.03H602.19M597.78 115.89H602.19" stroke="#ec1c24" stroke-width="1.1" fill="none"/>
<path d="M617.29 97.30V109.00M615.09 97.30H619.49M615.09 109.00H619.49" stroke="#ec1c24" stroke-width="1.1" fill="none"/>
<path d="M634.60 94.20V112.10M632.40 94.20H636.80M632.40 112.10H636.80" stroke="#ec1c24" stroke-width="1.1" fill="none"/>
<circle cx="444.21" cy="113.48" r="2.35" fill="#ec1c24" stroke="#ec1c24" stroke-width="1.1"/>
<circle cx="461.52" cy="65.62" r="2.35" fill="#ec1c24" stroke="#ec1c24" stroke-width="1.1"/>
<circle cx="478.83" cy="68.37" r="2.35" fill="#ec1c24" stroke="#ec1c24" stroke-width="1.1"/>
<circle cx="496.13" cy="82.15" r="2.35" fill="#ec1c24" stroke="#ec1c24" stroke-width="1.1"/>
<circle cx="513.44" cy="83.87" r="2.35" fill="#ec1c24" stroke="#ec1c24" stroke-width="1.1"/>
<circle cx="530.75" cy="92.13" r="2.35" fill="#ec1c24" stroke="#ec1c24" stroke-width="1.1"/>
<circle cx="548.06" cy="94.89" r="2.35" fill="#ec1c24" stroke="#ec1c24" stroke-width="1.1"/>
<circle cx="565.37" cy="96.95" r="2.35" fill="#ec1c24" stroke="#ec1c24" stroke-width="1.1"/>
<circle cx="582.68" cy="99.36" r="2.35" fill="#ec1c24" stroke="#ec1c24" stroke-width="1.1"/>
<circle cx="599.99" cy="102.46" r="2.35" fill="#ec1c24" stroke="#ec1c24" stroke-width="1.1"/>
<circle cx="617.29" cy="103.15" r="2.35" fill="#ec1c24" stroke="#ec1c24" stroke-width="1.1"/>
<circle cx="634.60" cy="103.15" r="2.35" fill="#ec1c24" stroke="#ec1c24" stroke-width="1.1"/>
<polyline points="444.21,113.82 461.52,104.18 478.83,118.30 496.13,119.33 513.44,125.18 530.75,126.22 548.06,141.37 565.37,144.47 582.68,146.19 599.99,146.88 617.29,147.22 634.60,154.79" fill="none" stroke="#1a1aff" stroke-width="1.3" stroke-linejoin="round"/>
<path d="M444.21 111.41V116.23M442.01 111.41H446.41M442.01 116.23H446.41" stroke="#1a1aff" stroke-width="1.1" fill="none"/>
<path d="M461.52 98.67V109.69M459.32 98.67H463.72M459.32 109.69H463.72" stroke="#1a1aff" stroke-width="1.1" fill="none"/>
<path d="M478.83 113.13V123.46M476.63 113.13H481.03M476.63 123.46H481.03" stroke="#1a1aff" stroke-width="1.1" fill="none"/>
<path d="M496.13 114.86V123.81M493.93 114.86H498.33M493.93 123.81H498.33" stroke="#1a1aff" stroke-width="1.1" fill="none"/>
<path d="M513.44 121.74V128.63M511.24 121.74H515.64M511.24 128.63H515.64" stroke="#1a1aff" stroke-width="1.1" fill="none"/>
<path d="M530.75 122.09V130.35M528.55 122.09H532.95M528.55 130.35H532.95" stroke="#1a1aff" stroke-width="1.1" fill="none"/>
<path d="M548.06 134.82V147.91M545.86 134.82H550.26M545.86 147.91H550.26" stroke="#1a1aff" stroke-width="1.1" fill="none"/>
<path d="M565.37 138.61V150.32M563.17 138.61H567.57M563.17 150.32H567.57" stroke="#1a1aff" stroke-width="1.1" fill="none"/>
<path d="M582.68 139.99V152.38M580.48 139.99H584.88M580.48 152.38H584.88" stroke="#1a1aff" stroke-width="1.1" fill="none"/>
<path d="M599.99 141.02V152.73M597.78 141.02H602.19M597.78 152.73H602.19" stroke="#1a1aff" stroke-width="1.1" fill="none"/>
<path d="M617.29 141.71V152.73M615.09 141.71H619.49M615.09 152.73H619.49" stroke="#1a1aff" stroke-width="1.1" fill="none"/>
<path d="M634.60 147.22V162.37M632.40 147.22H636.80M632.40 162.37H636.80" stroke="#1a1aff" stroke-width="1.1" fill="none"/>
<circle cx="444.21" cy="113.82" r="2.35" fill="#1a1aff" stroke="#1a1aff" stroke-width="1.1"/>
<circle cx="461.52" cy="104.18" r="2.35" fill="#1a1aff" stroke="#1a1aff" stroke-width="1.1"/>
<circle cx="478.83" cy="118.30" r="2.35" fill="#1a1aff" stroke="#1a1aff" stroke-width="1.1"/>
<circle cx="496.13" cy="119.33" r="2.35" fill="#1a1aff" stroke="#1a1aff" stroke-width="1.1"/>
<circle cx="513.44" cy="125.18" r="2.35" fill="#1a1aff" stroke="#1a1aff" stroke-width="1.1"/>
<circle cx="530.75" cy="126.22" r="2.35" fill="#1a1aff" stroke="#1a1aff" stroke-width="1.1"/>
<circle cx="548.06" cy="141.37" r="2.35" fill="#1a1aff" stroke="#1a1aff" stroke-width="1.1"/>
<circle cx="565.37" cy="144.47" r="2.35" fill="#1a1aff" stroke="#1a1aff" stroke-width="1.1"/>
<circle cx="582.68" cy="146.19" r="2.35" fill="#1a1aff" stroke="#1a1aff" stroke-width="1.1"/>
<circle cx="599.99" cy="146.88" r="2.35" fill="#1a1aff" stroke="#1a1aff" stroke-width="1.1"/>
<circle cx="617.29" cy="147.22" r="2.35" fill="#1a1aff" stroke="#1a1aff" stroke-width="1.1"/>
<circle cx="634.60" cy="154.79" r="2.35" fill="#1a1aff" stroke="#1a1aff" stroke-width="1.1"/>
<polyline points="444.21,154.11 461.52,141.37 478.83,143.43 496.13,145.84 513.44,146.19 530.75,151.01 548.06,155.83 565.37,161.68 582.68,162.37 599.99,162.37 617.29,162.37 634.60,162.37" fill="none" stroke="#ec1c24" stroke-width="1.3" stroke-linejoin="round"/>
<path d="M444.21 145.50V162.71M442.01 145.50H446.41M442.01 162.71H446.41" stroke="#222" stroke-width="1.1" fill="none"/>
<path d="M461.52 132.76V149.97M459.32 132.76H463.72M459.32 149.97H463.72" stroke="#222" stroke-width="1.1" fill="none"/>
<path d="M478.83 134.82V152.04M476.63 134.82H481.03M476.63 152.04H481.03" stroke="#222" stroke-width="1.1" fill="none"/>
<path d="M496.13 138.61V153.07M493.93 138.61H498.33M493.93 153.07H498.33" stroke="#222" stroke-width="1.1" fill="none"/>
<path d="M513.44 141.71V150.66M511.24 141.71H515.64M511.24 150.66H515.64" stroke="#222" stroke-width="1.1" fill="none"/>
<path d="M530.75 144.47V157.55M528.55 144.47H532.95M528.55 157.55H532.95" stroke="#222" stroke-width="1.1" fill="none"/>
<path d="M548.06 150.66V160.99M545.86 150.66H550.26M545.86 160.99H550.26" stroke="#222" stroke-width="1.1" fill="none"/>
<path d="M565.37 157.55V165.81M563.17 157.55H567.57M563.17 165.81H567.57" stroke="#222" stroke-width="1.1" fill="none"/>
<path d="M582.68 158.24V166.50M580.48 158.24H584.88M580.48 166.50H584.88" stroke="#222" stroke-width="1.1" fill="none"/>
<path d="M599.99 158.24V166.50M597.78 158.24H602.19M597.78 166.50H602.19" stroke="#222" stroke-width="1.1" fill="none"/>
<path d="M617.29 158.24V166.50M615.09 158.24H619.49M615.09 166.50H619.49" stroke="#222" stroke-width="1.1" fill="none"/>
<path d="M634.60 158.93V165.81M632.40 158.93H636.80M632.40 165.81H636.80" stroke="#222" stroke-width="1.1" fill="none"/>
<circle cx="444.21" cy="154.11" r="2.35" fill="#fff" stroke="#222" stroke-width="1.1"/>
<circle cx="461.52" cy="141.37" r="2.35" fill="#fff" stroke="#222" stroke-width="1.1"/>
<circle cx="478.83" cy="143.43" r="2.35" fill="#fff" stroke="#222" stroke-width="1.1"/>
<circle cx="496.13" cy="145.84" r="2.35" fill="#fff" stroke="#222" stroke-width="1.1"/>
<circle cx="513.44" cy="146.19" r="2.35" fill="#fff" stroke="#222" stroke-width="1.1"/>
<circle cx="530.75" cy="151.01" r="2.35" fill="#fff" stroke="#222" stroke-width="1.1"/>
<circle cx="548.06" cy="155.83" r="2.35" fill="#fff" stroke="#222" stroke-width="1.1"/>
<circle cx="565.37" cy="161.68" r="2.35" fill="#fff" stroke="#222" stroke-width="1.1"/>
<circle cx="582.68" cy="162.37" r="2.35" fill="#fff" stroke="#222" stroke-width="1.1"/>
<circle cx="599.99" cy="162.37" r="2.35" fill="#fff" stroke="#222" stroke-width="1.1"/>
<circle cx="617.29" cy="162.37" r="2.35" fill="#fff" stroke="#222" stroke-width="1.1"/>
<circle cx="634.60" cy="162.37" r="2.35" fill="#fff" stroke="#222" stroke-width="1.1"/>
<polyline points="444.21,158.24 461.52,141.37 478.83,143.43 496.13,145.84 513.44,146.19 530.75,150.32 548.06,158.24 565.37,161.68 582.68,162.37 599.99,165.12 617.29,167.88 634.60,168.57" fill="none" stroke="#1a1aff" stroke-width="1.3" stroke-linejoin="round"/>
<path d="M444.21 145.15V171.32M442.01 145.15H446.41M442.01 171.32H446.41" stroke="#1a1aff" stroke-width="1.1" fill="none"/>
<path d="M461.52 125.18V157.55M459.32 125.18H463.72M459.32 157.55H463.72" stroke="#1a1aff" stroke-width="1.1" fill="none"/>
<path d="M478.83 137.23V149.63M476.63 137.23H481.03M476.63 149.63H481.03" stroke="#1a1aff" stroke-width="1.1" fill="none"/>
<path d="M496.13 139.64V152.04M493.93 139.64H498.33M493.93 152.04H498.33" stroke="#1a1aff" stroke-width="1.1" fill="none"/>
<path d="M513.44 141.71V150.66M511.24 141.71H515.64M511.24 150.66H515.64" stroke="#1a1aff" stroke-width="1.1" fill="none"/>
<path d="M530.75 146.19V154.45M528.55 146.19H532.95M528.55 154.45H532.95" stroke="#1a1aff" stroke-width="1.1" fill="none"/>
<path d="M548.06 150.32V166.16M545.86 150.32H550.26M545.86 166.16H550.26" stroke="#1a1aff" stroke-width="1.1" fill="none"/>
<path d="M565.37 157.55V165.81M563.17 157.55H567.57M563.17 165.81H567.57" stroke="#1a1aff" stroke-width="1.1" fill="none"/>
<path d="M582.68 158.24V166.50M580.48 158.24H584.88M580.48 166.50H584.88" stroke="#1a1aff" stroke-width="1.1" fill="none"/>
<path d="M599.99 161.68V168.57M597.78 161.68H602.19M597.78 168.57H602.19" stroke="#1a1aff" stroke-width="1.1" fill="none"/>
<path d="M617.29 164.43V171.32M615.09 164.43H619.49M615.09 171.32H619.49" stroke="#1a1aff" stroke-width="1.1" fill="none"/>
<path d="M634.60 165.12V172.01M632.40 165.12H636.80M632.40 172.01H636.80" stroke="#1a1aff" stroke-width="1.1" fill="none"/>
<circle cx="444.21" cy="158.24" r="2.35" fill="#fff" stroke="#1a1aff" stroke-width="1.1"/>
<circle cx="461.52" cy="141.37" r="2.35" fill="#fff" stroke="#1a1aff" stroke-width="1.1"/>
<circle cx="478.83" cy="143.43" r="2.35" fill="#fff" stroke="#1a1aff" stroke-width="1.1"/>
<circle cx="496.13" cy="145.84" r="2.35" fill="#fff" stroke="#1a1aff" stroke-width="1.1"/>
<circle cx="513.44" cy="146.19" r="2.35" fill="#fff" stroke="#1a1aff" stroke-width="1.1"/>
<circle cx="530.75" cy="150.32" r="2.35" fill="#fff" stroke="#1a1aff" stroke-width="1.1"/>
<circle cx="548.06" cy="158.24" r="2.35" fill="#fff" stroke="#1a1aff" stroke-width="1.1"/>
<circle cx="565.37" cy="161.68" r="2.35" fill="#fff" stroke="#1a1aff" stroke-width="1.1"/>
<circle cx="582.68" cy="162.37" r="2.35" fill="#fff" stroke="#1a1aff" stroke-width="1.1"/>
<circle cx="599.99" cy="165.12" r="2.35" fill="#fff" stroke="#1a1aff" stroke-width="1.1"/>
<circle cx="617.29" cy="167.88" r="2.35" fill="#fff" stroke="#1a1aff" stroke-width="1.1"/>
<circle cx="634.60" cy="168.57" r="2.35" fill="#fff" stroke="#1a1aff" stroke-width="1.1"/>
<line x1="430" y1="33.3" x2="451.7" y2="33.3" stroke="#ec1c24" stroke-width="1.3"/>
<circle cx="441.15" cy="33.3" r="2.4" fill="#ec1c24" stroke="#ec1c24" stroke-width="1.1"/>
<text class="b" x="453.2" y="31" font-size="7.6">18</text>
<text class="b" x="460.6" y="36.4" font-size="11.4" textLength="76.2" lengthAdjust="spacingAndGlyphs">F-3+3-tumor</text>
<line x1="430" y1="49.6" x2="451.7" y2="49.6" stroke="#ec1c24" stroke-width="1.3"/>
<circle cx="441.15" cy="49.6" r="2.4" fill="#fff" stroke="#222" stroke-width="1.1"/>
<text class="b" x="453.2" y="46.8" font-size="7.6">18</text>
<text class="b" x="460.6" y="52.2" font-size="11.4" textLength="84.3" lengthAdjust="spacingAndGlyphs">F-3+3-muscle</text>
<line x1="555.6" y1="33.2" x2="576.8" y2="33.2" stroke="#1a1aff" stroke-width="1.3"/>
<circle cx="566.5" cy="33.2" r="2.4" fill="#1a1aff" stroke="#1a1aff" stroke-width="1.1"/>
<text class="b" x="578.4" y="31.9" font-size="7.6">18</text>
<text class="b" x="585.2" y="37.3" font-size="11.4" textLength="61.6" lengthAdjust="spacingAndGlyphs">F-3-tumor</text>
<line x1="555.6" y1="50.9" x2="576.8" y2="50.9" stroke="#1a1aff" stroke-width="1.3"/>
<circle cx="566.5" cy="50.9" r="2.4" fill="#fff" stroke="#1a1aff" stroke-width="1.1"/>
<text class="b" x="578.4" y="48.8" font-size="7.6">18</text>
<text class="b" x="585.2" y="54.2" font-size="11.4" textLength="69.5" lengthAdjust="spacingAndGlyphs">F-3-muscle</text>
<path d="M638.2 103H644V155.1H639" fill="none" stroke="#222" stroke-width="1.1"/>
<path d="M649.7 103H656.4V161.8H652.6" fill="none" stroke="#222" stroke-width="1.1"/>
<path d="M639 155.6H644.5V167.6H639" fill="none" stroke="#222" stroke-width="1.1"/>
<g fill="#111"><circle cx="648.4" cy="124.7" r="1.75"/><circle cx="648.4" cy="128.8" r="1.75"/><circle cx="648.4" cy="132.9" r="1.75"/></g>
<g fill="#111"><circle cx="661.2" cy="129" r="1.75"/><circle cx="661.2" cy="133.1" r="1.75"/><circle cx="661.2" cy="137.2" r="1.75"/></g>
<g fill="#111"><circle cx="647.8" cy="157.2" r="1.75"/><circle cx="647.8" cy="161.3" r="1.75"/><circle cx="647.8" cy="165.4" r="1.75"/></g>
<!-- Panel C -->
<text class="b" x="378.8" y="233.7" font-size="12.5">C</text>
<rect x="429.7" y="234" width="236.6" height="187.9" fill="none" stroke="#2a2a2a" stroke-width="1"/>
<line x1="426" y1="421.9" x2="429.7" y2="421.9" stroke="#2a2a2a" stroke-width="1"/>
<text class="b" transform="translate(424.3 427.4) scale(0.93 1)" x="0" y="0" font-size="15.6" text-anchor="end">0.0</text>
<line x1="666.3" y1="421.9" x2="668.1" y2="421.9" stroke="#555" stroke-width="1"/>
<line x1="427.8" y1="404.86" x2="429.7" y2="404.86" stroke="#2a2a2a" stroke-width="1"/>
<line x1="666.3" y1="404.86" x2="668.1" y2="404.86" stroke="#555" stroke-width="1"/>
<line x1="426" y1="387.82" x2="429.7" y2="387.82" stroke="#2a2a2a" stroke-width="1"/>
<text class="b" transform="translate(424.3 393.32) scale(0.93 1)" x="0" y="0" font-size="15.6" text-anchor="end">0.5</text>
<line x1="666.3" y1="387.82" x2="668.1" y2="387.82" stroke="#555" stroke-width="1"/>
<line x1="427.8" y1="370.78" x2="429.7" y2="370.78" stroke="#2a2a2a" stroke-width="1"/>
<line x1="666.3" y1="370.78" x2="668.1" y2="370.78" stroke="#555" stroke-width="1"/>
<line x1="426" y1="353.74" x2="429.7" y2="353.74" stroke="#2a2a2a" stroke-width="1"/>
<text class="b" transform="translate(424.3 359.24) scale(0.93 1)" x="0" y="0" font-size="15.6" text-anchor="end">1.0</text>
<line x1="666.3" y1="353.74" x2="668.1" y2="353.74" stroke="#555" stroke-width="1"/>
<line x1="427.8" y1="336.7" x2="429.7" y2="336.7" stroke="#2a2a2a" stroke-width="1"/>
<line x1="666.3" y1="336.7" x2="668.1" y2="336.7" stroke="#555" stroke-width="1"/>
<line x1="426" y1="319.66" x2="429.7" y2="319.66" stroke="#2a2a2a" stroke-width="1"/>
<text class="b" transform="translate(424.3 325.16) scale(0.93 1)" x="0" y="0" font-size="15.6" text-anchor="end">1.5</text>
<line x1="666.3" y1="319.66" x2="668.1" y2="319.66" stroke="#555" stroke-width="1"/>
<line x1="427.8" y1="302.62" x2="429.7" y2="302.62" stroke="#2a2a2a" stroke-width="1"/>
<line x1="666.3" y1="302.62" x2="668.1" y2="302.62" stroke="#555" stroke-width="1"/>
<line x1="426" y1="285.58" x2="429.7" y2="285.58" stroke="#2a2a2a" stroke-width="1"/>
<text class="b" transform="translate(424.3 291.08) scale(0.93 1)" x="0" y="0" font-size="15.6" text-anchor="end">2.0</text>
<line x1="666.3" y1="285.58" x2="668.1" y2="285.58" stroke="#555" stroke-width="1"/>
<line x1="427.8" y1="268.54" x2="429.7" y2="268.54" stroke="#2a2a2a" stroke-width="1"/>
<line x1="666.3" y1="268.54" x2="668.1" y2="268.54" stroke="#555" stroke-width="1"/>
<line x1="426" y1="251.5" x2="429.7" y2="251.5" stroke="#2a2a2a" stroke-width="1"/>
<text class="b" transform="translate(424.3 257) scale(0.93 1)" x="0" y="0" font-size="15.6" text-anchor="end">2.5</text>
<line x1="666.3" y1="251.5" x2="668.1" y2="251.5" stroke="#555" stroke-width="1"/>
<line x1="427.8" y1="234.46" x2="429.7" y2="234.46" stroke="#2a2a2a" stroke-width="1"/>
<line x1="666.3" y1="234.46" x2="668.1" y2="234.46" stroke="#555" stroke-width="1"/>
<line x1="449.5" y1="234" x2="449.5" y2="236.2" stroke="#2a2a2a" stroke-width="1"/>
<line x1="469.1" y1="234" x2="469.1" y2="236.2" stroke="#2a2a2a" stroke-width="1"/>
<line x1="488.7" y1="234" x2="488.7" y2="236.2" stroke="#2a2a2a" stroke-width="1"/>
<line x1="508.4" y1="234" x2="508.4" y2="236.2" stroke="#2a2a2a" stroke-width="1"/>
<line x1="528" y1="234" x2="528" y2="236.2" stroke="#2a2a2a" stroke-width="1"/>
<line x1="548.2" y1="234" x2="548.2" y2="236.2" stroke="#2a2a2a" stroke-width="1"/>
<line x1="567.8" y1="234" x2="567.8" y2="236.2" stroke="#2a2a2a" stroke-width="1"/>
<line x1="587.4" y1="234" x2="587.4" y2="236.2" stroke="#2a2a2a" stroke-width="1"/>
<line x1="607" y1="234" x2="607" y2="236.2" stroke="#2a2a2a" stroke-width="1"/>
<line x1="626.9" y1="234" x2="626.9" y2="236.2" stroke="#2a2a2a" stroke-width="1"/>
<line x1="646.6" y1="234" x2="646.6" y2="236.2" stroke="#2a2a2a" stroke-width="1"/>
<rect x="437.3" y="318.30" width="63.7" height="103.60" fill="#ffffff" stroke="#333" stroke-width="1.1"/>
<rect x="516.6" y="309.03" width="63.2" height="112.87" fill="#c0c0c0" stroke="#333" stroke-width="1.1"/>
<rect x="595.1" y="287.22" width="63.5" height="134.68" fill="#808080" stroke="#333" stroke-width="1.1"/>
<path d="M469.15 307.39V329.20M467.15 307.39H471.15M467.15 329.20H471.15" stroke="#333" stroke-width="1" fill="none"/>
<path d="M548.20 296.08V321.98M546.20 296.08H550.20M546.20 321.98H550.20" stroke="#333" stroke-width="1" fill="none"/>
<path d="M626.85 276.99V297.44M624.85 276.99H628.85M624.85 297.44H628.85" stroke="#333" stroke-width="1" fill="none"/>
<path d="M469.1 304.8V252H627V275.3" fill="none" stroke="#111" stroke-width="1.3"/>
<path d="M469.1 279.6H548.2V293.3" fill="none" stroke="#111" stroke-width="1.3"/>
<text class="b serif" x="500.9" y="277" font-size="9.2" textLength="15" lengthAdjust="spacingAndGlyphs" fill="#1a1a2a">N.S.</text>
<text class="b serif" x="545.2" y="252.8" font-size="13" fill="#1a1a2a">*</text>
<text class="b" x="445.4" y="438.4" font-size="16.2" textLength="37.6" lengthAdjust="spacingAndGlyphs">10-15</text>
<text class="b" x="528" y="438.4" font-size="16.2" textLength="37.9" lengthAdjust="spacingAndGlyphs">30-35</text>
<text class="b" x="606" y="438.4" font-size="16.2" textLength="39" lengthAdjust="spacingAndGlyphs">55-60</text>
<text class="b" x="512.9" y="456" font-size="13.6" textLength="67.2" lengthAdjust="spacingAndGlyphs">Time (min)</text>
<text class="b" transform="translate(396.3 420.9) rotate(-90)" x="0" y="0" font-size="15.6" textLength="165.6" lengthAdjust="spacingAndGlyphs" style="white-space:pre">Ratio of  tumor uptake</text>
</svg>
</div>
</body></html>
